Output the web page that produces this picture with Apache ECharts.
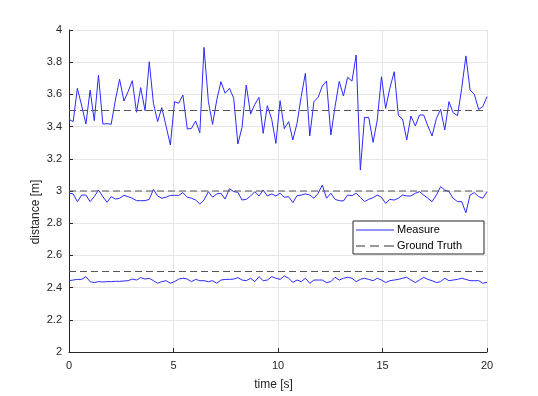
<!DOCTYPE html>
<html>
<head>
	<meta charset="utf-8">
	<title>distance</title>
	<script src="https://cdn.jsdelivr.net/npm/echarts@6/dist/echarts.min.js"></script>
	<style>
		* { margin: 0; padding: 0; }
		body { background: #fff; }
		#chart { width: 538px; height: 396px; }
	</style>
</head>
<body>
	<div id="chart"></div>
	<script type="text/javascript">
		// sample times [s]
		var time = [0, 0.2, 0.4, 0.61, 0.81, 1.01, 1.21, 1.41, 1.62, 1.82, 2.02, 2.22, 2.42, 2.63, 2.83, 3.03, 3.23, 3.43, 3.64, 3.84,
			4.04, 4.24, 4.44, 4.65, 4.85, 5.05, 5.25, 5.45, 5.66, 5.86, 6.06, 6.26, 6.46, 6.67, 6.87, 7.07, 7.27, 7.47, 7.68, 7.88,
			8.08, 8.28, 8.48, 8.69, 8.89, 9.09, 9.29, 9.49, 9.7, 9.9, 10.1, 10.3, 10.51, 10.71, 10.91, 11.11, 11.31, 11.52, 11.72, 11.92,
			12.12, 12.32, 12.53, 12.73, 12.93, 13.13, 13.33, 13.54, 13.74, 13.94, 14.14, 14.34, 14.55, 14.75, 14.95, 15.15, 15.35, 15.56, 15.76, 15.96,
			16.16, 16.36, 16.57, 16.77, 16.97, 17.17, 17.37, 17.58, 17.78, 17.98, 18.18, 18.38, 18.59, 18.79, 18.99, 19.19, 19.39, 19.6, 19.8, 20];

		// measured distances [m], one list per target
		var measureFar = [3.445, 3.431, 3.638, 3.528, 3.416, 3.627, 3.437, 3.720, 3.416, 3.418, 3.415, 3.565, 3.694, 3.559, 3.618, 3.685, 3.489, 3.642, 3.499, 3.803,
			3.545, 3.431, 3.518, 3.400, 3.286, 3.555, 3.545, 3.596, 3.385, 3.389, 3.435, 3.362, 3.892,
			3.555, 3.414, 3.565, 3.679, 3.607, 3.638, 3.576, 3.292, 3.396, 3.658, 3.478, 3.538, 3.582, 3.358, 3.530, 3.445, 3.296, 3.561,
			3.387, 3.431, 3.317, 3.420, 3.586, 3.731, 3.342, 3.555, 3.582, 3.652, 3.683, 3.348, 3.524, 3.681, 3.590, 3.706,
			3.683, 3.845, 3.130, 3.457, 3.457, 3.302, 3.441, 3.710, 3.513, 3.638, 3.741, 3.468, 3.447, 3.317, 3.466, 3.404, 3.472,
			3.472, 3.404, 3.342, 3.451, 3.507, 3.379, 3.555, 3.486, 3.468, 3.638, 3.839, 3.627, 3.602, 3.507, 3.524, 3.586];

		var measureMid = [2.986, 2.982, 2.934, 2.975, 2.975, 2.934, 2.965, 3.006, 2.965, 2.930, 2.965, 2.950, 2.955, 2.973, 2.965, 2.955, 2.940,
			2.940, 2.940, 2.948, 3.010, 2.969, 2.955, 2.961, 2.973, 2.973, 2.973, 2.990, 2.961, 2.955, 2.944, 2.919, 2.944, 2.996,
			2.961, 2.982, 2.986, 2.950, 3.015, 2.996, 2.992, 2.944, 2.948, 2.969, 2.996, 2.969, 3.006, 2.969, 2.982, 2.969, 2.986,
			2.961, 2.965, 2.928, 2.971, 2.975, 2.982, 2.975, 2.955, 2.986, 3.037, 2.955, 2.986, 2.948, 2.940, 2.938, 2.975, 2.971,
			2.986, 2.961, 2.934, 2.948, 2.959, 2.975, 2.961, 2.923, 2.948, 2.944, 2.955, 2.975, 2.969, 2.969, 2.986, 2.996, 2.975,
			2.955, 2.934, 2.975, 3.027, 3.006, 2.996, 2.955, 2.934, 2.934, 2.865, 2.975, 2.990, 2.965, 2.955, 2.996];

		var measureNear = [2.443, 2.447, 2.451, 2.451, 2.468, 2.437, 2.431, 2.437, 2.435, 2.437, 2.437, 2.439, 2.439, 2.441, 2.443, 2.453, 2.447,
			2.462, 2.453, 2.458, 2.443, 2.427, 2.437, 2.443, 2.427, 2.437, 2.453, 2.458, 2.453, 2.437, 2.451, 2.443, 2.443, 2.437,
			2.443, 2.427, 2.447, 2.451, 2.451, 2.453, 2.462, 2.447, 2.443, 2.458, 2.437, 2.468, 2.443, 2.447, 2.468, 2.458, 2.451,
			2.472, 2.458, 2.433, 2.447, 2.437, 2.458, 2.427, 2.447, 2.447, 2.447, 2.431, 2.437, 2.464, 2.447, 2.458, 2.464, 2.458,
			2.437, 2.451, 2.458, 2.451, 2.443, 2.458, 2.447, 2.431, 2.443, 2.447, 2.451, 2.458, 2.464, 2.447, 2.431, 2.447, 2.464,
			2.451, 2.443, 2.431, 2.437, 2.458, 2.443, 2.447, 2.451, 2.458, 2.451, 2.443, 2.443, 2.443, 2.427, 2.433];

		// ground truth distances [m]
		var truth = [3.5, 3.0, 2.5];
		var timeRange = [0, 20];

		var blue = '#2b2bff';
		var dashGray = '#555';

		// legend swatches: thin solid / dashed strokes inside a 38x12 box
		var iconSolid = 'path://M0,0h0.01v0.01h-0.01z M0,12h0.01v0.01h-0.01z M0,5.5h38v1h-38z';
		var iconDashed = 'path://M0,0h0.01v0.01h-0.01z M0,12h0.01v0.01h-0.01z M0,5.5h9v1h-9z M14,5.5h9v1h-9z M28,5.5h10v1h-10z';

		var myChart = echarts.init(document.getElementById('chart'));

		function pairs(vals) {
			return time.map(function (t, i) { return [t, vals[i]]; });
		}

		var series = [];
		[measureFar, measureMid, measureNear].forEach(function (vals) {
			series.push({
				name: 'Measure',
				type: 'line',
				data: pairs(vals),
				symbol: 'none',
				color: blue,
				lineStyle: { color: blue, width: 1 },
				itemStyle: { color: blue },
				animation: false
			});
		});
		truth.forEach(function (d) {
			series.push({
				name: 'Ground Truth',
				type: 'line',
				data: [[timeRange[0], d], [timeRange[1], d]],
				symbol: 'none',
				color: dashGray,
				lineStyle: { color: dashGray, width: 1.2, type: [7, 4] },
				itemStyle: { color: dashGray },
				animation: false
			});
		});

		var font = '"Liberation Sans", Arial, sans-serif';

		var option = {
			backgroundColor: '#fff',
			animation: false,
			grid: { left: 69, right: 51, top: 30, bottom: 44 },
			legend: {
				data: [
					{ name: 'Measure', icon: iconSolid, itemStyle: { color: blue } },
					{ name: 'Ground Truth', icon: iconDashed, itemStyle: { color: '#333' } }
				],
				orient: 'vertical',
				left: 353,
				top: 221,
				itemWidth: 38,
				itemHeight: 12,
				itemGap: 4,
				padding: [3, 22, 2, 3],
				borderColor: '#262626',
				borderWidth: 1,
				backgroundColor: '#fff',
				textStyle: { fontFamily: font, fontSize: 11, color: '#000', padding: [0, 0, 0, -2] }
			},
			xAxis: {
				type: 'value',
				min: 0,
				max: 20,
				interval: 5,
				name: 'time [s]',
				nameLocation: 'middle',
				nameGap: 27,
				nameMoveOverlap: false,
				nameTextStyle: { fontFamily: font, fontSize: 12, color: '#262626', padding: [0, 9, 0, 0] },
				axisLine: { onZero: false, lineStyle: { color: '#262626', width: 1 } },
				axisTick: { inside: true, length: 4, lineStyle: { color: '#262626' } },
				axisLabel: { fontFamily: font, fontSize: 11, color: '#262626', margin: 8 },
				splitLine: { show: true, lineStyle: { color: '#e6e6e6', width: 1 } }
			},
			yAxis: {
				type: 'value',
				min: 2,
				max: 4,
				interval: 0.2,
				name: 'distance [m]',
				nameLocation: 'middle',
				nameGap: 27,
				nameMoveOverlap: false,
				nameTextStyle: { fontFamily: font, fontSize: 12, color: '#262626', padding: [0, 42, 0, 0] },
				axisLine: { show: true, onZero: false, lineStyle: { color: '#262626', width: 1 } },
				axisTick: { show: true, inside: true, length: 4, lineStyle: { color: '#262626' } },
				axisLabel: { fontFamily: font, fontSize: 11, color: '#262626', margin: 7 },
				splitLine: { show: true, lineStyle: { color: '#e6e6e6', width: 1 } }
			},
			series: series
		};

		myChart.setOption(option);
	</script>
</body>
</html>
